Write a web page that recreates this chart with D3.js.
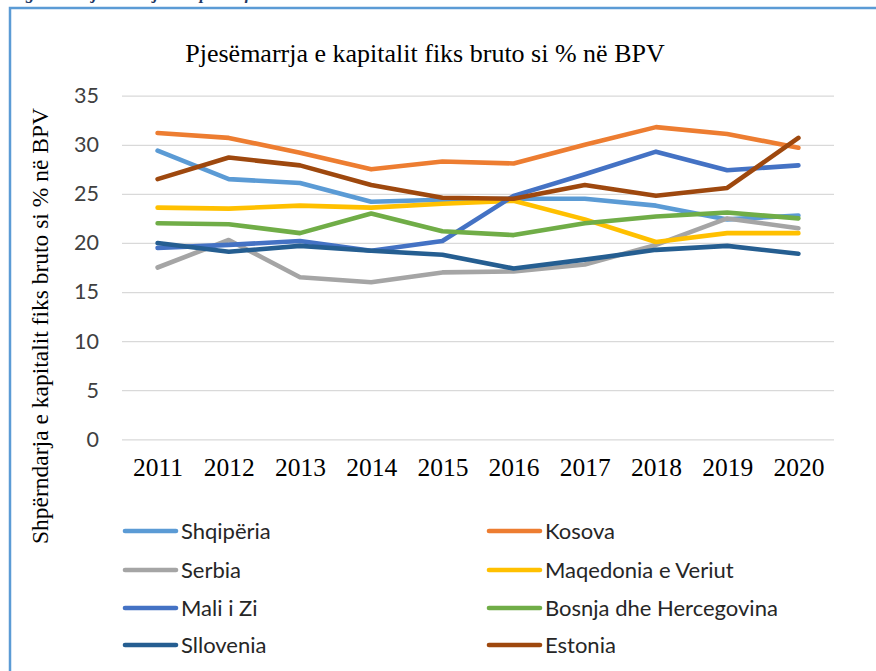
<!DOCTYPE html>
<html><head><meta charset="utf-8">
<script src="https://cdn.jsdelivr.net/npm/d3@7"></script>
<style>body{margin:0;background:#fff}svg{display:block}</style>
</head><body>
<svg id="c" width="876" height="671"></svg>
<script>
const years = ["2011","2012","2013","2014","2015","2016","2017","2018","2019","2020"];
const yTicks = [0,5,10,15,20,25,30,35];
const seriesNames = ["Shqipëria","Kosova","Serbia","Maqedonia e Veriut","Mali i Zi","Bosnja dhe Hercegovina","Sllovenia","Estonia"];
const seriesColors = ["#5B9BD5","#ED7D31","#A5A5A5","#FFC000","#4472C4","#70AD47","#255E91","#9E480E"];
const shqiperia = [29.4,26.5,26.1,24.2,24.4,24.5,24.5,23.8,22.4,22.8];
const kosova    = [31.2,30.7,29.2,27.5,28.3,28.1,30.0,31.8,31.1,29.7];
const serbia    = [17.5,20.3,16.5,16.0,17.0,17.1,17.8,19.8,22.5,21.5];
const maqedonia = [23.6,23.5,23.8,23.6,24.0,24.3,22.4,20.1,21.0,21.0];
const maliZi    = [19.5,19.8,20.2,19.2,20.2,24.8,27.0,29.3,27.4,27.9];
const bosnja    = [22.0,21.9,21.0,23.0,21.2,20.8,22.0,22.7,23.1,22.5];
const sllovenia = [20.0,19.1,19.7,19.2,18.8,17.4,18.3,19.3,19.7,18.9];
const estonia   = [26.5,28.7,27.9,25.9,24.6,24.5,25.9,24.8,25.6,30.7];
const seriesValues = [shqiperia,kosova,serbia,maqedonia,maliZi,bosnja,sllovenia,estonia];

const svg = d3.select("#c");
// outer frame
svg.append("rect").attr("x",10).attr("y",8).attr("width",900).attr("height",700)
  .attr("fill","#fff").attr("stroke","#5B9BD5").attr("stroke-width",2.5);
// caption cut off at top (as in the reference)
svg.append("text").attr("x",10).attr("y",-1)
  .attr("font-family","Liberation Serif").attr("font-style","italic").attr("font-weight","bold")
  .attr("font-size",17).attr("fill","#1F3864")
  .text("Figura 9: Pjesëmarrja e kapitalit fiks bruto si % në BPV");

const x = d3.scalePoint().domain(years).range([122,834]).padding(0.5);
const y = d3.scaleLinear().domain([0,35]).range([439.3,95.7]);

// title
svg.append("text").attr("x",425).attr("y",62).attr("text-anchor","middle")
  .attr("font-family","Liberation Serif").attr("font-size",26).attr("fill","#000")
  .text("Pjesëmarrja e kapitalit fiks bruto si % në BPV");

// gridlines + y labels
const yAxis = d3.axisLeft(y).tickValues(yTicks).tickSize(-(834-122)).tickPadding(23);
const gy = svg.append("g").attr("transform","translate(122,0)").call(yAxis);
gy.select(".domain").remove();
gy.selectAll(".tick line").attr("stroke","#D9D9D9").attr("stroke-width",1.3);
gy.selectAll(".tick text").attr("font-family","Lato").attr("font-size",21.5).attr("fill","#404040");

// x labels
const xAxis = d3.axisBottom(x).tickSize(0).tickPadding(0);
const gx = svg.append("g").attr("transform","translate(0,458)").call(xAxis);
gx.select(".domain").remove();
gx.selectAll(".tick text").attr("font-family","Liberation Serif").attr("font-size",25.5).attr("fill","#000").attr("dy","0.71em");

// y axis title
svg.append("text").attr("transform","translate(48,326) rotate(-90)").attr("text-anchor","middle")
  .attr("font-family","Liberation Serif").attr("font-size",23.5).attr("fill","#000")
  .text("Shpërndarja e kapitalit fiks bruto si % në BPV");

// lines
const line = d3.line().x((d,i)=>x(years[i])).y(d=>y(d));
seriesValues.forEach((vals,k)=>{
  svg.append("path").datum(vals).attr("d",line).attr("fill","none")
    .attr("stroke",seriesColors[k]).attr("stroke-width",4.6)
    .attr("stroke-linecap","round").attr("stroke-linejoin","round");
});

// legend
const rowsY = [531,570,608,645];
const colX = [123,487];
seriesNames.forEach((n,k)=>{
  const cx = colX[k%2], cy = rowsY[Math.floor(k/2)];
  svg.append("line").attr("x1",cx+2).attr("x2",cx+53).attr("y1",cy).attr("y2",cy)
    .attr("stroke",seriesColors[k]).attr("stroke-width",4.6).attr("stroke-linecap","round");
  svg.append("text").attr("x",cx+58).attr("y",cy).attr("dy","0.36em")
    .attr("font-family","Lato").attr("font-size",22).attr("fill","#262626").text(n);
});
</script>
</body></html>
